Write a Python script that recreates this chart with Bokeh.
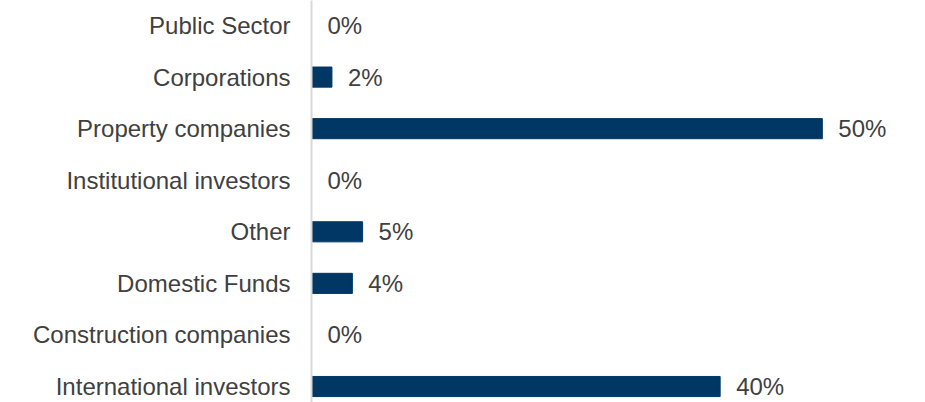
from bokeh.plotting import figure
from bokeh.models import Range1d, FixedTicker, ColumnDataSource
from bokeh.core.properties import value
from bokeh.embed import file_html
from bokeh.resources import INLINE

categories = ["Public Sector", "Corporations", "Property companies", "Institutional investors",
              "Other", "Domestic Funds", "Construction companies", "International investors"]
values = [0, 2, 50, 0, 5, 4, 0, 40]

pos = list(range(len(categories)))
labels = [f"{v}%" for v in values]
src = ColumnDataSource(dict(y=pos, v=values, lab=labels))

FONT = "Liberation Sans"
TXT = "#404040"

p = figure(width=925, height=402, output_backend="svg", toolbar_location=None,
           x_range=Range1d(0, 60.1), y_range=Range1d(7.31, -0.485),
           min_border_left=311, min_border_right=0, min_border_top=0, min_border_bottom=0)
p.outline_line_color = None
p.grid.visible = False
p.xaxis.visible = False

p.hbar(y="y", right="v", left=0, height=0.39, source=src, color="#003764")
p.text(x="v", y="y", text="lab", source=src, x_offset=16, text_align="left",
       text_baseline="middle", text_font=value(FONT), text_font_size="24px", text_color=TXT)

ya = p.yaxis[0]
ya.ticker = FixedTicker(ticks=pos)
ya.major_label_overrides = {i: c for i, c in zip(pos, categories)}
ya.major_tick_line_color = None
ya.minor_tick_line_color = None
ya.major_tick_in = 0
ya.major_tick_out = 0
ya.major_label_standoff = 21
ya.axis_line_color = "#d9d9d9"
ya.axis_line_width = 2
ya.major_label_text_font = FONT
ya.major_label_text_font_size = "24px"
ya.major_label_text_color = TXT

open("out.html", "w").write(file_html(p, INLINE))
